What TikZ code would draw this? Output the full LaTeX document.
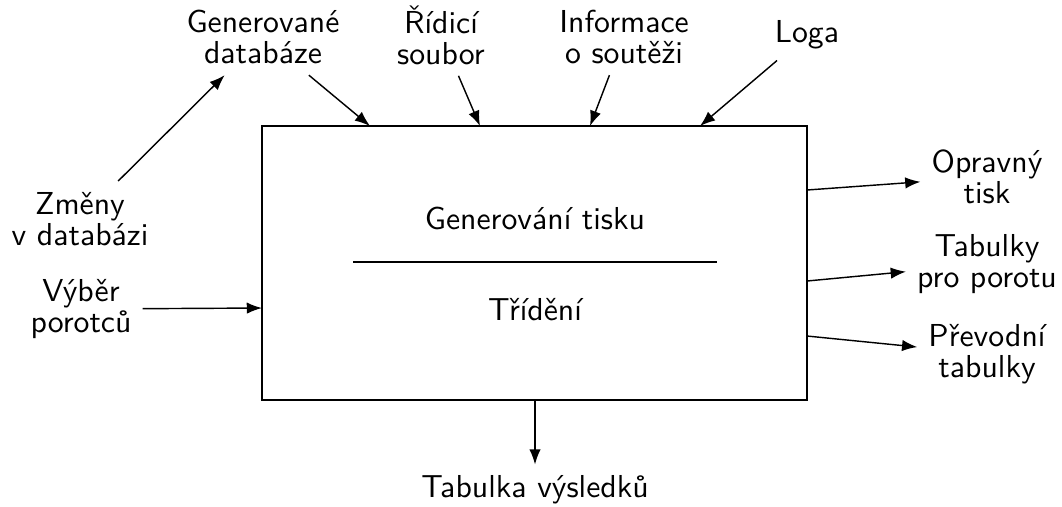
\documentclass[tikz,border=0pt]{standalone}
\usetikzlibrary{arrows.meta,calc}

\begin{document}
\begin{tikzpicture}[x=0.315pt,y=-0.315pt,
  font=\sffamily\fontsize{10}{9.8}\selectfont,
  Lbl/.style={align=center},
  Arr/.style={-{Latex[length=4.8pt,width=3.6pt]},line width=0.45pt}]
\useasboundingbox (0,0) rectangle (1062,506);

\node[draw,line width=0.8pt,minimum width=171.7pt,minimum height=86.3pt,inner sep=0pt] (P) at (534.5,263) {};
\node (Gen) at (535,218) {Generování tisku};
\node (Sort) at (535,310) {Třídění};
\draw[line width=0.6pt] (353,262) -- (717,262);

\coordinate (T1) at (370,126);
\coordinate (T2) at (480,126);
\coordinate (T3) at (590,126);
\coordinate (T4) at (700,126);
\coordinate (L1) at (262,308);
\coordinate (R1) at (807,190);
\coordinate (R2) at (807,281);
\coordinate (R3) at (807,336);
\coordinate (B1) at (535,400);

\node[Lbl] (GenDb) at (263,37) {Generované\\databáze};
\node[Lbl] (Ctrl) at (441,35) {Řídicí\\soubor};
\node[Lbl] (Info) at (624,37) {Informace\\o soutěži};
\node[Lbl] (Logos) at (807,35) {Loga};
\node[Lbl] (Chg) at (80,219) {Změny\\v databázi};
\node[Lbl] (Jury) at (81,309) {Výběr\\porotců};
\node[Lbl] (Corr) at (987,177) {Opravný\\tisk};
\node[Lbl] (Tabs) at (987,264) {Tabulky\\pro porotu};
\node[Lbl] (Conv) at (987,354) {Převodní\\tabulky};
\node[Lbl] (Res) at (535,490) {Tabulka výsledků};

\draw[Arr] (Chg) -- (GenDb);
\draw[Arr] (GenDb) -- (T1);
\draw[Arr] (Ctrl) -- (T2);
\draw[Arr] (Info) -- (T3);
\draw[Arr] (Logos) -- (T4);
\draw[Arr] (Jury) -- (L1);
\draw[Arr] (R1) -- (Corr);
\draw[Arr] (R2) -- (Tabs);
\draw[Arr] (R3) -- (Conv);
\draw[Arr] (B1) -- (Res);

\end{tikzpicture}
\end{document}
